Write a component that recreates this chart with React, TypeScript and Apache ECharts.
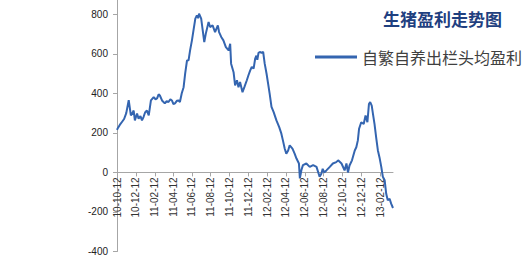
import React, { useEffect, useRef } from "react";
import * as echarts from "echarts";

const title = "生猪盈利走势图";
const seriesName = "自繁自养出栏头均盈利";

const dates: string[] = [
  "2010-10-12","2010-10-15","2010-10-21","2010-10-28","2010-11-04","2010-11-11","2010-11-19","2010-11-26",
  "2010-12-01","2010-12-05","2010-12-09","2010-12-16","2010-12-21","2010-12-27","2011-01-01","2011-01-06",
  "2011-01-11","2011-01-17","2011-01-23","2011-01-30","2011-02-08","2011-02-14","2011-02-19","2011-02-24",
  "2011-02-28","2011-03-07","2011-03-16","2011-03-22","2011-03-28","2011-04-03","2011-04-08","2011-04-13",
  "2011-04-18","2011-04-24","2011-04-30","2011-05-04","2011-05-10","2011-05-16","2011-05-21","2011-05-27",
  "2011-06-01","2011-06-06","2011-06-12","2011-06-17","2011-06-23","2011-06-28","2011-07-02","2011-07-05",
  "2011-07-12","2011-07-17","2011-07-22","2011-07-27","2011-08-05","2011-08-10","2011-08-18","2011-08-26",
  "2011-09-04","2011-09-08","2011-09-15","2011-09-22","2011-09-30","2011-10-09","2011-10-14","2011-10-17",
  "2011-10-25","2011-10-30","2011-11-05","2011-11-10","2011-11-15","2011-11-23","2011-11-29","2011-12-07",
  "2011-12-12","2011-12-18","2011-12-23","2011-12-29","2012-01-03","2012-01-07","2012-01-10","2012-01-14",
  "2012-01-18","2012-01-24","2012-01-29","2012-02-03","2012-02-09","2012-02-14","2012-02-19","2012-02-25",
  "2012-03-03","2012-03-12","2012-03-21","2012-03-28","2012-04-02","2012-04-08","2012-04-13","2012-04-19",
  "2012-04-24","2012-05-03","2012-05-10","2012-05-16","2012-05-24","2012-05-27","2012-06-01","2012-06-06",
  "2012-06-17","2012-06-28","2012-07-09","2012-07-20","2012-07-30","2012-08-05","2012-08-09","2012-08-14",
  "2012-08-21","2012-09-01","2012-09-11","2012-09-22","2012-09-28","2012-10-09","2012-10-19","2012-10-25",
  "2012-10-30","2012-11-04","2012-11-12","2012-11-21","2012-11-26","2012-12-01","2012-12-05","2012-12-12",
  "2012-12-20","2012-12-26","2013-01-01","2013-01-06","2013-01-10","2013-01-15","2013-01-19","2013-01-24",
  "2013-01-30","2013-02-04","2013-02-10","2013-02-15","2013-02-20","2013-02-26","2013-03-03","2013-03-08",
  "2013-03-14","2013-03-19","2013-03-25"
];

const profit: number[] = [
  215, 225, 240, 255, 270, 300, 365, 288,
  300, 313, 263, 298, 272, 285, 263, 280,
  303, 313, 288, 364, 381, 370, 374, 395,
  389, 364, 349, 360, 356, 370, 364, 345,
  349, 362, 364, 356, 400, 431, 500, 566,
  567, 617, 668, 718, 778, 794, 780, 803,
  778, 718, 659, 702, 761, 735, 744, 710,
  744, 710, 685, 668, 634, 617, 651, 550,
  507, 440, 466, 431, 457, 406, 431, 466,
  490, 516, 533, 525, 575, 590, 570, 605,
  609, 605, 609, 550, 499, 449, 398, 331,
  305, 263, 229, 196, 162, 120, 95, 111,
  137, 120, 95, 70, 45, -30, 12, 37,
  45, 28, 37, 28, -22, -5, 18, 0,
  10, 28, 45, 52, 61, 45, 10, 45,
  0, 35, 61, 111, 127, 162, 221, 254,
  245, 288, 254, 346, 356, 338, 296, 245,
  170, 111, 70, 28, -22, -40, -108, -141,
  -133, -158, -180
];

const xTickDates: string[] = [
  "2010-10-12","2010-12-12","2011-02-12","2011-04-12","2011-06-12","2011-08-12","2011-10-12","2011-12-12",
  "2012-02-12","2012-04-12","2012-06-12","2012-08-12","2012-10-12","2012-12-12","2013-02-12"
];
const xMin = "2010-10-12";
const xMax = "2013-03-25";

const yTicks: number[] = [-400, -200, 0, 200, 400, 600, 800];
const yMin = -400;
const yMax = 872;

function toTime(s: string): number {
  const [y, m, d] = s.split("-").map(Number);
  return new Date(y, m - 1, d).getTime();
}
function pad(n: number): string {
  return n < 10 ? "0" + n : "" + n;
}
function fmt(v: number): string {
  const d = new Date(v);
  return pad(d.getFullYear() % 100) + "-" + pad(d.getMonth() + 1) + "-" + pad(d.getDate());
}

const GRID_TOP = 0;
const GRID_BOTTOM = 8.5;
const CHART_H = 260;

export default function App() {
  const ref = useRef<HTMLDivElement>(null);
  useEffect(() => {
    if (!ref.current) return;
    const chart = echarts.init(ref.current, null, { renderer: "svg" });
    const ticks = xTickDates.map(toTime);
    // distance from grid bottom (yMin) up to value 0, so the x axis sits on zero
    const plotH = CHART_H - GRID_TOP - GRID_BOTTOM;
    const zeroOffset = -((0 - yMin) / (yMax - yMin)) * plotH;
    chart.setOption({
      animation: false,
      backgroundColor: "#ffffff",
      title: {
        text: title,
        left: 378,
        top: 5,
        textStyle: {
          fontFamily: "Noto Sans CJK SC",
          fontSize: 17,
          fontWeight: "bold",
          color: "#1f4080",
        },
      },
      legend: {
        left: 310,
        top: 44,
        itemWidth: 42,
        itemHeight: 3,
        icon: "rect",
        data: [{ name: seriesName, icon: "rect" }],
        textStyle: {
          fontFamily: "Noto Sans CJK SC",
          fontSize: 16,
          color: "#404040",
        },
      },
      grid: { left: 117, right: 137, top: GRID_TOP, bottom: GRID_BOTTOM, containLabel: false, outerBoundsMode: "none" },
      xAxis: {
        type: "value",
        min: toTime(xMin),
        max: toTime(xMax),
        offset: zeroOffset,
        axisLine: { onZero: false, lineStyle: { color: "#a6a6a6", width: 1 } },
        axisTick: { show: true, length: 4, customValues: ticks, lineStyle: { color: "#a6a6a6" } },
        splitLine: { show: false },
        axisLabel: {
          customValues: ticks,
          rotate: 90,
          margin: 5,
          fontSize: 10,
          fontFamily: "Liberation Sans",
          color: "#333333",
          hideOverlap: false,
          formatter: (v: number) => fmt(v),
        },
      },
      yAxis: {
        type: "value",
        min: yMin,
        max: yMax,
        axisLine: { show: true, onZero: false, lineStyle: { color: "#a6a6a6", width: 1 } },
        axisTick: { show: true, length: 4, customValues: yTicks, lineStyle: { color: "#a6a6a6" } },
        splitLine: { show: false },
        axisLabel: {
          customValues: yTicks,
          margin: 9,
          fontSize: 10,
          fontFamily: "Liberation Sans",
          color: "#222222",
        },
      },
      series: [
        {
          name: seriesName,
          type: "line",
          data: dates.map((d, i) => [toTime(d), profit[i]]),
          showSymbol: false,
          symbol: "none",
          lineStyle: { color: "#3465b0", width: 2 },
          itemStyle: { color: "#3465b0" },
        },
      ],
    });
    return () => chart.dispose();
  }, []);
  return (
    <div
      ref={ref}
      style={{ position: "fixed", left: 0, top: 0, width: 530, height: 260 }}
    />
  );
}
